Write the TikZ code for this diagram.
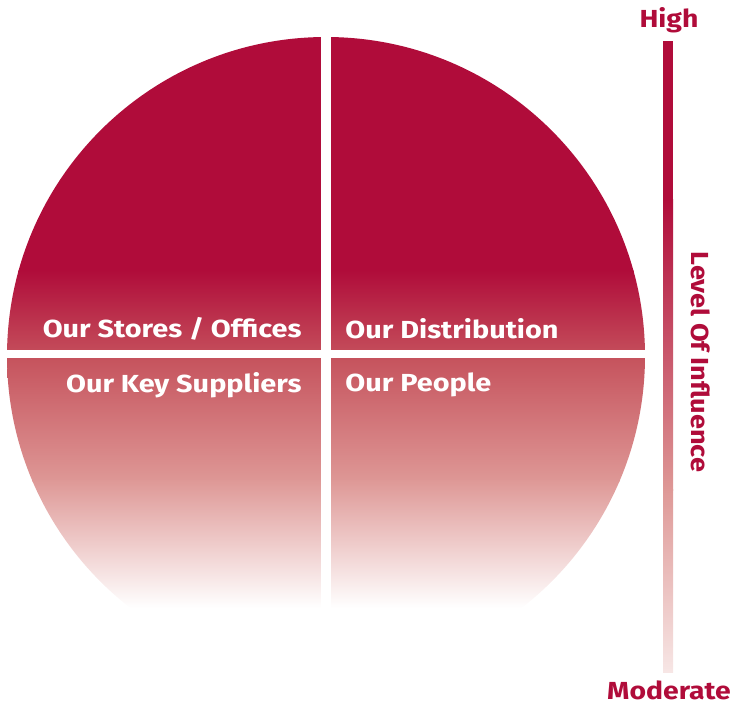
\documentclass[tikz,border=0pt]{standalone}
\usepackage{fontspec}
\setmainfont{Fira Sans}
\definecolor{crimson}{RGB}{176,12,58}
\definecolor{rose}{RGB}{198,84,94}
\definecolor{salmon}{RGB}{222,152,150}
\definecolor{blush}{RGB}{247,230,229}

\tikzset{
  quadlabel/.style={text=white,inner sep=0.75pt,xscale=1.17,font=\bfseries\fontsize{18.5}{20}\selectfont},
  axislabel/.style={text=crimson,inner sep=0.75pt,xscale=1.15,font=\bfseries\fontsize{18.5}{20}\selectfont}
}

\begin{document}
\begin{tikzpicture}[x=0.75pt,y=0.75pt,yscale=-1,xscale=1]
\useasboundingbox (0,0) rectangle (733,707);
% disc, cut flat at the bottom
\begin{scope}
  \clip (0,0) rectangle (733,607);
  \clip (326,356) circle [radius=319];
  \fill[crimson] (0,30) rectangle (660,272);
  \shade[top color=crimson,bottom color=rose] (0,270) rectangle (660,362);
  \shade[top color=rose,bottom color=salmon] (0,360) rectangle (660,482);
  \shade[top color=salmon,bottom color=white] (0,480) rectangle (660,608);
\end{scope}
% white gaps between the quarters
\fill[white] (321,30) rectangle (331,615);
\fill[white] (0,350) rectangle (660,358);

\node[quadlabel,anchor=east] (stores) at (303,329) {Our Stores / Offices};
\node[quadlabel,anchor=west] (distrib) at (344,329) {Our Distribution};
\node[quadlabel,anchor=east] (suppliers) at (303,385) {Our Key Suppliers};
\node[quadlabel,anchor=west] (people) at (344,385) {Our People};

% influence scale
\fill[crimson] (663,41) rectangle (673,200);
\shade[top color=crimson,bottom color=salmon] (663,199) rectangle (673,490);
\shade[top color=salmon,bottom color=blush] (663,489) rectangle (673,672);
\node[axislabel] (high) at (669,20) {High};
\node[axislabel] (moderate) at (669,690) {Moderate};
\node[text=crimson,inner sep=0.75pt,rotate=-90,xscale=1.1,font=\bfseries\fontsize{18.5}{20}\selectfont] (influence) at (701,362) {Level Of Influence};
\end{tikzpicture}
\end{document}
